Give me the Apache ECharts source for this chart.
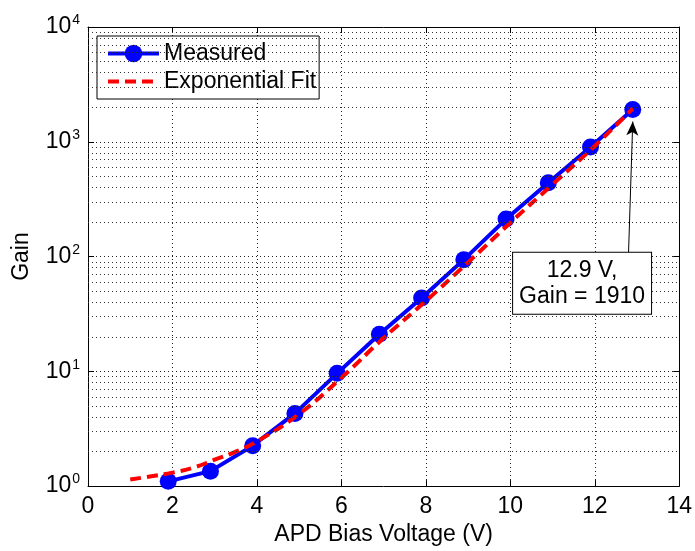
<!DOCTYPE html>
<html>
<head>
<meta charset="utf-8">
<script src="https://cdn.jsdelivr.net/npm/echarts@6/dist/echarts.min.js"></script>
<style>
html,body{margin:0;padding:0;background:#fff;}
#chart{width:695px;height:551px;}
</style>
</head>
<body>
<div id="chart"></div>
<script>
// ---- data ----
var measuredVoltage = [1.9, 2.9, 3.9, 4.9, 5.9, 6.9, 7.9, 8.9, 9.9, 10.9, 11.9, 12.9];
var measuredGain    = [1.1, 1.35, 2.25, 4.3, 9.6, 21, 43.5, 94, 212, 440, 900, 1910];
var fitVoltage = [1, 1.5, 2, 2.5, 3, 3.5, 4, 5, 6, 7, 8, 9, 10, 11, 12, 12.9];
var fitGain    = [1.14, 1.22, 1.31, 1.45, 1.7, 2.0, 2.45, 4.25, 8.8, 19.5, 41, 89, 197, 425, 920, 1950];
var xTicks = [0, 2, 4, 6, 8, 10, 12, 14];
var yDecades = [1, 10, 100, 1000, 10000];
var minorMultipliers = [2, 3, 4, 5, 6, 7, 8, 9];
var annotationText = ['12.9 V,', 'Gain = 1910'];
var annotationPoint = [12.9, 1500];     // arrow tip
var annotationArrowStart = [12.8, 108]; // arrow tail (top of box)
var annotationBoxCenter = [11.7, 58.5];

var FONT = 'Liberation Sans, Arial, sans-serif';
var FS = 23;
var dotted = [1, 3];

var minorLines = [];
for (var d = 0; d < yDecades.length - 1; d++) {
  for (var m = 0; m < minorMultipliers.length; m++) {
    minorLines.push({ yAxis: yDecades[d] * minorMultipliers[m] });
  }
}

function zip(a, b) { return a.map(function (v, i) { return [v, b[i]]; }); }

var chart = echarts.init(document.getElementById('chart'), null, { renderer: 'canvas' });
var option = {
  backgroundColor: '#fff',
  animation: false,
  grid: { left: 88, right: 13, top: 27, bottom: 58, containLabel: false },
  legend: {
    data: [
      { name: 'Measured' },
      { name: 'Exponential Fit', itemStyle: { opacity: 0 } }
    ],
    orient: 'vertical',
    left: 97, top: 36,
    padding: [6, 3, 6, 9],
    itemWidth: 51, itemHeight: 22, itemGap: 5,
    lineStyle: { width: 4 },
    backgroundColor: '#fff', borderColor: '#000', borderWidth: 1,
    textStyle: { fontFamily: FONT, fontSize: FS, color: '#000' }
  },
  xAxis: [{
    type: 'value', min: 0, max: 14, interval: 2,
    name: 'APD Bias Voltage (V)', nameLocation: 'middle', nameGap: 36,
    nameTextStyle: { fontFamily: FONT, fontSize: FS, color: '#000' },
    axisLine: { show: true, onZero: false, lineStyle: { color: '#000', width: 1 } },
    axisTick: { show: true, inside: true, length: 6, lineStyle: { color: '#000' } },
    axisLabel: { fontFamily: FONT, fontSize: FS, color: '#000', margin: 9 },
    splitLine: { show: true, lineStyle: { color: '#222', width: 1, type: dotted } }
  }, {
    type: 'value', min: 0, max: 14, interval: 2, position: 'top',
    axisLine: { show: true, onZero: false, lineStyle: { color: '#000', width: 1 } },
    axisTick: { show: true, inside: true, length: 6, lineStyle: { color: '#000' } },
    axisLabel: { show: false }, splitLine: { show: false }
  }],
  yAxis: [{
    type: 'log', logBase: 10, min: 1, max: 10000,
    name: 'Gain', nameLocation: 'middle', nameGap: 55, nameRotate: 90,
    nameTextStyle: { fontFamily: FONT, fontSize: FS, color: '#000' },
    axisLine: { show: true, onZero: false, lineStyle: { color: '#000', width: 1 } },
    axisTick: { show: true, inside: true, length: 6, lineStyle: { color: '#000' } },
    axisLabel: {
      margin: 8,
      formatter: function (v) { return '{b|10}{s|' + Math.round(Math.log10(v)) + '}'; },
      rich: {
        b: { fontFamily: FONT, fontSize: FS, color: '#000' },
        s: { fontFamily: FONT, fontSize: 14, color: '#000', verticalAlign: 'bottom', padding: [0, 0, 13, 1] }
      }
    },
    splitLine: { show: true, lineStyle: { color: '#222', width: 1, type: dotted } }
  }, {
    type: 'log', logBase: 10, min: 1, max: 10000, position: 'right',
    axisLine: { show: true, onZero: false, lineStyle: { color: '#000', width: 1 } },
    axisTick: { show: true, inside: true, length: 6, lineStyle: { color: '#000' } },
    axisLabel: { show: false }, splitLine: { show: false }
  }],
  series: [{
    name: 'gridMinor', type: 'line', data: [], silent: true, z: 1,
    markLine: {
      silent: true, symbol: ['none', 'none'], label: { show: false },
      lineStyle: { color: '#333', width: 1, type: dotted },
      animation: false,
      data: minorLines
    }
  }, {
    name: 'Measured', type: 'line', z: 3,
    data: zip(measuredVoltage, measuredGain),
    symbol: 'circle', symbolSize: 17,
    itemStyle: { color: '#0000ff' },
    lineStyle: { color: '#0000ff', width: 4 }
  }, {
    name: 'Exponential Fit', type: 'line', z: 4, smooth: true,
    data: zip(fitVoltage, fitGain),
    showSymbol: false, symbol: 'none',
    itemStyle: { color: '#ff0000' },
    lineStyle: { color: '#ff0000', width: 4, type: [11, 6] }
  }, {
    name: 'annotation', type: 'line', data: [], silent: true, z: 6,
    markLine: {
      silent: true, animation: false,
      symbol: ['none', 'arrow'], symbolSize: [9, 14],
      label: { show: false },
      lineStyle: { color: '#000', width: 1, type: 'solid' },
      data: [[{ coord: annotationArrowStart }, { coord: annotationPoint }]]
    },
    markPoint: {
      silent: true, animation: false,
      symbol: 'rect', symbolSize: 0,
      data: [{
        coord: annotationBoxCenter,
        label: {
          show: true, position: 'inside',
          formatter: annotationText.join('\n'),
          fontFamily: FONT, fontSize: FS, lineHeight: 26, color: '#000',
          align: 'center', verticalAlign: 'middle',
          backgroundColor: '#fff', borderColor: '#000', borderWidth: 1,
          padding: [5, 6, 4, 6]
        }
      }]
    }
  }]
};
chart.setOption(option);
</script>
</body>
</html>
